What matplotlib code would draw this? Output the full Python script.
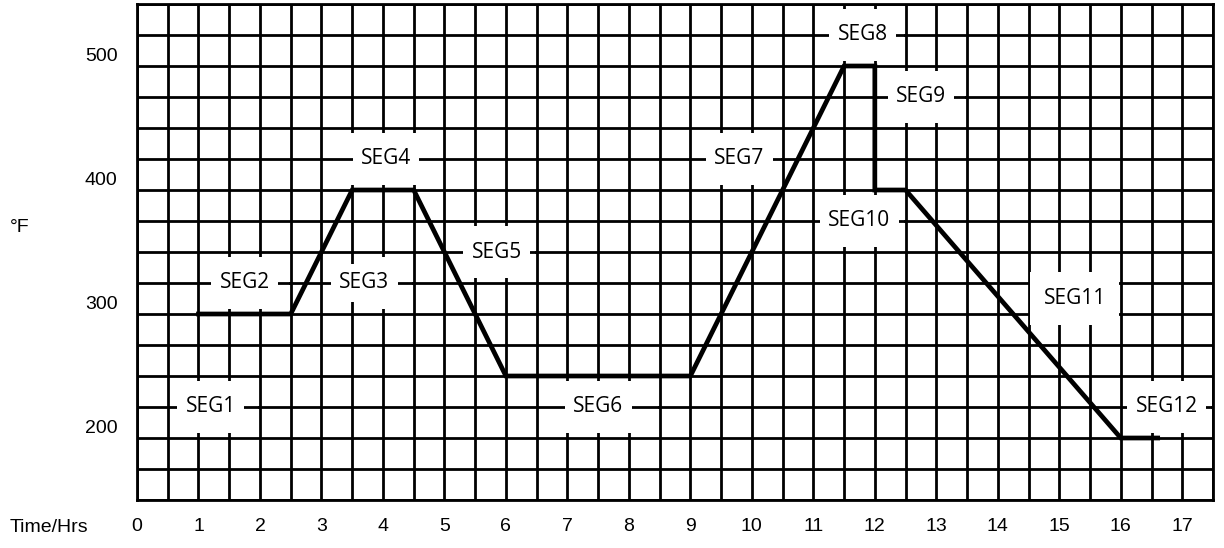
import matplotlib
matplotlib.use('Agg')
import matplotlib.pyplot as plt
from matplotlib.ticker import FixedLocator, MultipleLocator
from matplotlib.patches import Rectangle
from matplotlib.transforms import ScaledTranslation

# cure cycle: time (hrs) against oven temperature (deg F)
time_hrs = [1.0, 2.5, 3.5, 4.5, 6.0, 9.0, 11.5, 12.0, 12.0, 12.5, 16.0, 16.6]
temp_f = [300, 300, 400, 400, 250, 250, 500, 500, 400, 400, 200, 200]

x_ticks = list(range(0, 18))
y_ticks = [200, 300, 400, 500]

seg_names = ['SEG1', 'SEG2', 'SEG3', 'SEG4', 'SEG5', 'SEG6',
             'SEG7', 'SEG8', 'SEG9', 'SEG10', 'SEG11', 'SEG12']

# where each segment tag sits: box left, box right, box centre (deg F), text x
seg_tags = [
    (0.5, 2.0, 225, 1.2),
    (1.0, 2.5, 325, 1.75),
    (3.5, 4.5, 325, 3.7),
    (3.0, 5.0, 425, 4.05),
    (5.0, 6.5, 350, 5.85),
    (6.5, 8.5, 225, 7.5),
    (9.0, 10.5, 425, 9.8),
    (11.0, 12.5, 525, 11.8),
    (12.0, 13.5, 475, 12.75),
    (11.0, 12.5, 375, 11.75),
    (14.5, 16.0, 312.5, 15.25),
    (16.0, 17.5, 225, 16.75),
]

GRID_LW = 2.0
plt.rcParams['font.family'] = ['Liberation Sans', 'DejaVu Sans']

fig = plt.figure(figsize=(12.24, 5.48), dpi=100)
ax = fig.add_axes([137 / 1224, 48 / 548, 1076 / 1224, 496 / 548])
ax.set_xlim(0, 17.5)
ax.set_ylim(150, 550)

ax.xaxis.set_major_locator(FixedLocator(x_ticks))
ax.xaxis.set_minor_locator(MultipleLocator(0.5))
ax.yaxis.set_major_locator(FixedLocator(y_ticks))
ax.yaxis.set_minor_locator(MultipleLocator(25))
ax.grid(which='both', color='black', linewidth=GRID_LW)
ax.set_axisbelow(True)
ax.tick_params(which='both', length=0)
ax.tick_params(axis='x', pad=13, labelsize=14)
ax.tick_params(axis='y', pad=14, labelsize=14)
for sp in ax.spines.values():
    sp.set_linewidth(GRID_LW)

# y labels sit a little above their lines
shift = ScaledTranslation(0, 8 / 72, fig.dpi_scale_trans)
for lab in ax.get_yticklabels():
    lab.set_transform(lab.get_transform() + shift)

# blank out a patch of grid behind every tag
for name, (x0, x1, yc, tx) in zip(seg_names, seg_tags):
    ax.add_patch(Rectangle((x0 + 0.03, yc - 21), x1 - x0 - 0.06, 42,
                           facecolor='white', edgecolor='none', zorder=1))
    if yc % 25 == 0:
        ax.hlines(yc, x0, x1, colors='black', linewidth=GRID_LW, zorder=2)
    ax.text(tx, yc, name, ha='center', va='center', fontsize=15,
            family='Open Sans', zorder=3,
            bbox=dict(facecolor='white', edgecolor='none', pad=6))

ax.plot(time_hrs, temp_f, color='black', linewidth=3.4, zorder=4,
        solid_joinstyle='miter')

fig.text(10 / 1224, 1 - 228 / 548, '°F', fontsize=14, va='center')
fig.text(10 / 1224, 1 - 527 / 548, 'Time/Hrs', fontsize=14, va='center')

fig.savefig('out.png', dpi=100)
